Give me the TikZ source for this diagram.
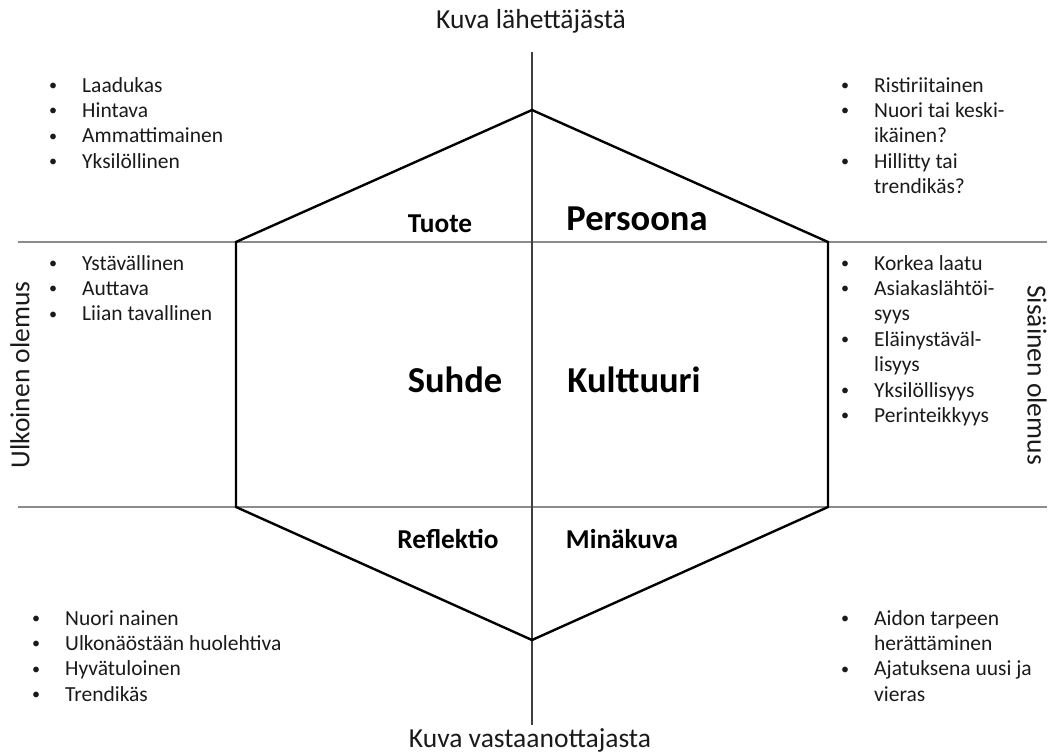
\documentclass[tikz,border=0pt]{standalone}
\usepackage{fontspec}
\setmainfont{Carlito}
\definecolor{gridgray}{HTML}{8C8C8C}
\definecolor{axisdark}{HTML}{404040}
\definecolor{textdark}{HTML}{1A1A1A}
% a slightly smaller list bullet, kept at mid x-height
\newcommand\listdot{\raisebox{1.5pt}{\scalebox{0.75}{•}}}
\begin{document}
\begin{tikzpicture}[x=1pt,y=-1pt,
  band/.style={draw=gridgray,line width=2pt},
  axis/.style={draw=axisdark,line width=1.3pt},
  hexline/.style={draw=black,line width=2.4pt,line join=miter},
  heading/.style={inner sep=0pt,anchor=base,text=textdark,font=\fontsize{27.5}{32}\selectfont},
  sidehead/.style={inner sep=0pt,anchor=center,text=textdark,font=\fontsize{27.5}{32}\selectfont},
  facet/.style={inner sep=0pt,anchor=base,text=black,font=\bfseries\fontsize{27.3}{32}\selectfont},
  bigfacet/.style={inner sep=0pt,anchor=base,text=black,font=\bfseries\fontsize{36.5}{42}\selectfont},
  bullets/.style={inner sep=0pt,anchor=base west,text=textdark,font=\fontsize{21.5}{25.4}\selectfont}]
\path[use as bounding box] (0,0) rectangle (1057,753);

% axes of the prism
\coordinate (vTop) at (532,52);
\coordinate (vBot) at (532,725);
\coordinate (hUpL) at (18,242);
\coordinate (hUpR) at (1047,242);
\coordinate (hLoL) at (18,507);
\coordinate (hLoR) at (1047,507);

% hexagon corners
\coordinate (pTop) at (532,110);
\coordinate (pUR) at (828,242);
\coordinate (pLR) at (828,507);
\coordinate (pBot) at (532,640);
\coordinate (pLL) at (236,507);
\coordinate (pUL) at (236,242);

\draw[band] (hUpL) -- (hUpR);
\draw[band] (hLoL) -- (hLoR);
\draw[axis] (vTop) -- (vBot);
\draw[hexline] (pTop) -- (pUR) -- (pLR) -- (pBot) -- (pLL) -- (pUL) -- cycle;

% outer headings
\node[heading] (sender) at (531,28) {Kuva lähettäjästä};
\node[heading] (receiver) at (530,747) {Kuva vastaanottajasta};
\node[sidehead,rotate=90] (outer) at (20,375) {Ulkoinen olemus};
\node[sidehead,rotate=-90] (inner) at (1037,375) {Sisäinen olemus};

% facets
\node[facet] (tuote) at (440,232) {Tuote};
\node[bigfacet] (persoona) at (637,230) {Persoona};
\node[bigfacet] (suhde) at (455,392) {Suhde};
\node[bigfacet] (kulttuuri) at (634,392) {Kulttuuri};
\node[facet] (reflektio) at (448,548) {Reflektio};
\node[facet] (minakuva) at (622,548) {Minäkuva};

% bullet lists
\node[bullets] (listTL) at (49,92) {\begin{tabular}[t]{@{}p{33pt}@{}l@{}}
\listdot&Laadukas\\
\listdot&Hintava\\
\listdot&Ammattimainen\\
\listdot&Yksilöllinen
\end{tabular}};
\node[bullets] (listTR) at (841,92) {\begin{tabular}[t]{@{}p{33pt}@{}l@{}}
\listdot&Ristiriitainen\\
\listdot&Nuori tai keski-\\
&ikäinen?\\
\listdot&Hillitty tai\\
&trendikäs?
\end{tabular}};
\node[bullets] (listML) at (49,270) {\begin{tabular}[t]{@{}p{33pt}@{}l@{}}
\listdot&Ystävällinen\\
\listdot&Auttava\\
\listdot&Liian tavallinen
\end{tabular}};
\node[bullets] (listMR) at (841,270) {\begin{tabular}[t]{@{}p{33pt}@{}l@{}}
\listdot&Korkea laatu\\
\listdot&Asiakaslähtöi-\\
&syys\\
\listdot&Eläinystäväl-\\
&lisyys\\
\listdot&Yksilöllisyys\\
\listdot&Perinteikkyys
\end{tabular}};
\node[bullets] (listBL) at (32,625) {\begin{tabular}[t]{@{}p{33pt}@{}l@{}}
\listdot&Nuori nainen\\
\listdot&Ulkonäöstään huolehtiva\\
\listdot&Hyvätuloinen\\
\listdot&Trendikäs
\end{tabular}};
\node[bullets] (listBR) at (841,625) {\begin{tabular}[t]{@{}p{33pt}@{}l@{}}
\listdot&Aidon tarpeen\\
&herättäminen\\
\listdot&Ajatuksena uusi ja\\
&vieras
\end{tabular}};
\end{tikzpicture}
\end{document}
